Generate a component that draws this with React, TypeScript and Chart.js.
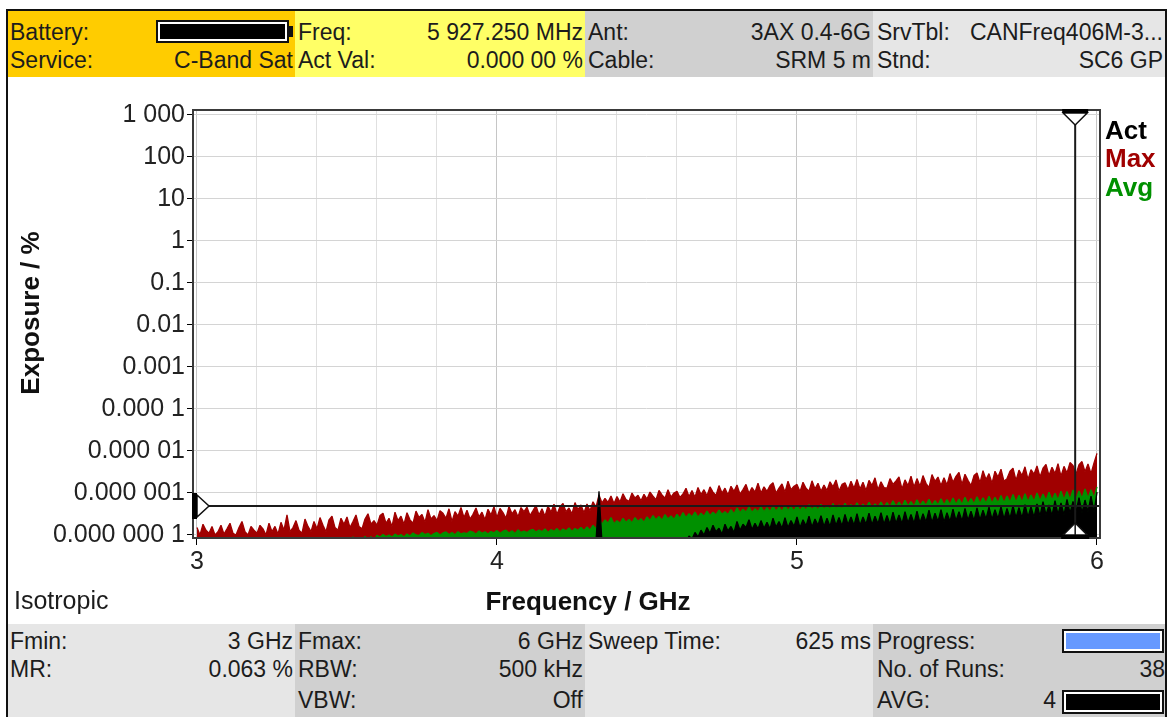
import React, { useEffect, useRef } from "react";
import { Chart, registerables } from "chart.js";

Chart.register(...registerables);

// ---------- data ----------
const FREQ_START_GHZ = 3.0;
const FREQ_STEP_GHZ = 0.01;
const POINT_COUNT = 301;
const frequencies: number[] = Array.from({ length: POINT_COUNT }, (_, i) =>
  Number((FREQ_START_GHZ + i * FREQ_STEP_GHZ).toFixed(2))
);

// Max hold trace (exposure, %)
const maxValues: number[] = [
  1.5e-7, 1.0e-7, 1.8e-7, 1.3e-7, 1.1e-7, 1.6e-7, 1.0e-7, 1.2e-7, 1.7e-7, 1.05e-7,
  1.4e-7, 1.9e-7, 1.1e-7, 1.0e-7, 1.5e-7, 2.1e-7, 1.2e-7, 1.0e-7, 1.6e-7, 1.3e-7,
  1.1e-7, 1.7e-7, 1.4e-7, 1.0e-7, 1.9e-7, 1.2e-7, 1.6e-7, 1.05e-7, 2.0e-7, 1.3e-7,
  3.0e-7, 1.2e-7, 1.5e-7, 2.2e-7, 1.3e-7, 1.1e-7, 2.4e-7, 1.6e-7, 1.2e-7, 2.1e-7,
  1.4e-7, 2.6e-7, 1.7e-7, 1.2e-7, 2.3e-7, 2.8e-7, 1.5e-7, 1.3e-7, 2.5e-7, 1.8e-7,
  2.7e-7, 1.5e-7, 2.1e-7, 3.0e-7, 1.6e-7, 1.4e-7, 2.4e-7, 3.2e-7, 1.8e-7, 2.2e-7,
  1.7e-7, 2.9e-7, 3.3e-7, 1.9e-7, 2.5e-7, 1.6e-7, 3.5e-7, 2.2e-7, 2.8e-7, 1.8e-7,
  3.4e-7, 2.3e-7, 1.9e-7, 3.7e-7, 2.6e-7, 3.1e-7, 2.0e-7, 4.0e-7, 2.4e-7, 2.9e-7,
  2.2e-7, 3.8e-7, 3.3e-7, 2.5e-7, 4.2e-7, 2.1e-7, 3.6e-7, 2.8e-7, 4.5e-7, 2.6e-7,
  3.9e-7, 2.4e-7, 3.1e-7, 4.4e-7, 2.7e-7, 3.5e-7, 2.3e-7, 4.1e-7, 3.0e-7, 4.7e-7,
  2.6e-7, 4.3e-7, 3.4e-7, 2.5e-7, 4.8e-7, 3.2e-7, 4.0e-7, 2.7e-7, 4.5e-7, 3.6e-7,
  4.6e-7, 2.9e-7, 3.8e-7, 5.0e-7, 3.0e-7, 4.2e-7, 2.8e-7, 4.9e-7, 3.5e-7, 5.4e-7,
  3.1e-7, 4.7e-7, 5.6e-7, 3.6e-7, 4.4e-7, 3.2e-7, 5.9e-7, 4.0e-7, 5.2e-7, 3.4e-7,
  5.5e-7, 3.8e-7, 6.2e-7, 4.6e-7, 9.0e-7, 5.8e-7, 7.4e-7, 6.0e-7, 8.5e-7, 5.6e-7,
  8.2e-7, 6.1e-7, 9.6e-7, 7.0e-7, 6.3e-7, 1.0e-6, 7.6e-7, 8.8e-7, 6.5e-7, 9.3e-7,
  7.2e-7, 1.05e-6, 8.4e-7, 6.9e-7, 1.15e-6, 9.0e-7, 7.5e-7, 1.2e-6, 8.0e-7, 1.0e-6,
  1.1e-6, 7.8e-7, 9.5e-7, 1.3e-6, 8.2e-7, 1.15e-6, 7.9e-7, 1.35e-6, 9.2e-7, 1.2e-6,
  8.6e-7, 1.4e-6, 1.05e-6, 8.8e-7, 1.5e-6, 1.0e-6, 1.3e-6, 9.0e-7, 1.45e-6, 1.1e-6,
  1.55e-6, 9.4e-7, 1.2e-6, 1.6e-6, 9.8e-7, 1.35e-6, 1.05e-6, 1.7e-6, 1.0e-6, 1.4e-6,
  1.1e-6, 1.5e-6, 1.75e-6, 1.0e-6, 1.3e-6, 1.65e-6, 1.05e-6, 1.9e-6, 1.2e-6, 1.45e-6,
  1.6e-6, 1.08e-6, 1.8e-6, 1.3e-6, 1.1e-6, 1.95e-6, 1.25e-6, 1.7e-6, 1.1e-6, 1.55e-6,
  1.15e-6, 1.85e-6, 1.4e-6, 2.05e-6, 1.12e-6, 1.6e-6, 1.75e-6, 1.2e-6, 1.9e-6, 1.3e-6,
  2.1e-6, 1.25e-6, 1.8e-6, 1.15e-6, 2.0e-6, 1.5e-6, 2.3e-6, 1.2e-6, 1.85e-6, 1.35e-6,
  1.3e-6, 2.2e-6, 1.6e-6, 1.95e-6, 2.4e-6, 1.25e-6, 2.05e-6, 1.5e-6, 2.5e-6, 1.4e-6,
  2.2e-6, 1.45e-6, 2.6e-6, 1.7e-6, 1.35e-6, 2.75e-6, 1.9e-6, 2.4e-6, 1.5e-6, 2.3e-6,
  1.55e-6, 2.9e-6, 1.8e-6, 2.5e-6, 3.1e-6, 1.6e-6, 2.8e-6, 2.0e-6, 1.5e-6, 2.6e-6,
  3.0e-6, 1.75e-6, 3.4e-6, 2.1e-6, 2.9e-6, 1.7e-6, 3.3e-6, 2.4e-6, 3.7e-6, 1.9e-6,
  2.2e-6, 3.3e-6, 3.9e-6, 2.0e-6, 3.5e-6, 2.6e-6, 4.2e-6, 2.1e-6, 3.6e-6, 2.8e-6,
  4.4e-6, 2.4e-6, 3.9e-6, 4.8e-6, 2.6e-6, 4.1e-6, 2.9e-6, 5.0e-6, 2.5e-6, 4.3e-6,
  3.0e-6, 5.3e-6, 4.5e-6, 2.8e-6, 4.7e-6, 5.6e-6, 3.2e-6, 4.9e-6, 2.9e-6, 5.2e-6,
  8.8e-6,
];

// Average trace (exposure, %)
const avgValues: number[] = [
  7.0e-8, 5.5e-8, 7.6e-8, 6.0e-8, 6.8e-8, 5.4e-8, 7.8e-8, 5.8e-8, 7.2e-8, 5.5e-8,
  7.7e-8, 5.9e-8, 7.1e-8, 5.6e-8, 8.0e-8, 6.0e-8, 7.4e-8, 5.7e-8, 7.9e-8, 6.1e-8,
  7.5e-8, 6.2e-8, 8.1e-8, 5.9e-8, 7.7e-8, 6.3e-8, 8.2e-8, 6.0e-8, 7.8e-8, 6.4e-8,
  8.2e-8, 6.3e-8, 7.9e-8, 6.5e-8, 8.3e-8, 6.6e-8, 8.0e-8, 6.4e-8, 8.4e-8, 6.7e-8,
  8.1e-8, 6.8e-8, 8.4e-8, 6.6e-8, 8.2e-8, 6.9e-8, 8.4e-8, 7.0e-8, 8.3e-8, 7.1e-8,
  8.6e-8, 7.2e-8, 9.0e-8, 7.1e-8, 8.8e-8, 7.4e-8, 9.3e-8, 7.3e-8, 9.1e-8, 7.5e-8,
  9.8e-8, 8.8e-8, 1.03e-7, 9.2e-8, 1.0e-7, 8.9e-8, 1.05e-7, 9.4e-8, 1.02e-7, 9.0e-8,
  1.06e-7, 9.5e-8, 1.12e-7, 1.0e-7, 9.7e-8, 1.14e-7, 1.02e-7, 1.1e-7, 9.6e-8, 1.08e-7,
  1.15e-7, 1.0e-7, 1.12e-7, 1.18e-7, 1.03e-7, 1.14e-7, 1.01e-7, 1.2e-7, 1.06e-7, 1.12e-7,
  1.08e-7, 1.23e-7, 1.17e-7, 1.04e-7, 1.25e-7, 1.1e-7, 1.19e-7, 1.06e-7, 1.21e-7, 1.13e-7,
  1.27e-7, 1.1e-7, 1.23e-7, 1.3e-7, 1.12e-7, 1.26e-7, 1.08e-7, 1.33e-7, 1.15e-7, 1.24e-7,
  1.14e-7, 1.29e-7, 1.36e-7, 1.17e-7, 1.31e-7, 1.2e-7, 1.39e-7, 1.15e-7, 1.34e-7, 1.22e-7,
  1.42e-7, 1.2e-7, 1.38e-7, 1.25e-7, 1.47e-7, 1.22e-7, 1.43e-7, 1.3e-7, 1.52e-7, 1.26e-7,
  1.55e-7, 1.3e-7, 1.7e-7, 1.4e-7, 2.5e-7, 1.8e-7, 2.3e-7, 1.9e-7, 2.6e-7, 1.85e-7,
  2.2e-7, 1.9e-7, 2.5e-7, 2.0e-7, 2.35e-7, 1.95e-7, 2.6e-7, 2.1e-7, 2.45e-7, 2.0e-7,
  2.7e-7, 2.2e-7, 2.9e-7, 2.3e-7, 2.75e-7, 2.25e-7, 3.05e-7, 2.4e-7, 2.85e-7, 2.35e-7,
  3.1e-7, 2.5e-7, 3.4e-7, 2.6e-7, 3.2e-7, 2.7e-7, 3.5e-7, 2.65e-7, 3.3e-7, 2.8e-7,
  3.7e-7, 2.9e-7, 3.5e-7, 3.0e-7, 3.9e-7, 3.1e-7, 3.6e-7, 3.05e-7, 4.0e-7, 3.2e-7,
  4.4e-7, 3.4e-7, 4.1e-7, 3.5e-7, 4.6e-7, 3.45e-7, 4.2e-7, 3.6e-7, 4.7e-7, 3.55e-7,
  4.5e-7, 3.6e-7, 4.9e-7, 3.7e-7, 4.6e-7, 3.65e-7, 5.0e-7, 3.8e-7, 4.7e-7, 3.75e-7,
  5.1e-7, 3.85e-7, 4.8e-7, 3.9e-7, 5.3e-7, 4.0e-7, 4.9e-7, 3.95e-7, 5.4e-7, 4.1e-7,
  5.0e-7, 4.1e-7, 5.6e-7, 4.2e-7, 5.2e-7, 4.15e-7, 5.7e-7, 4.3e-7, 5.3e-7, 4.25e-7,
  5.8e-7, 4.4e-7, 5.4e-7, 4.5e-7, 6.0e-7, 4.45e-7, 5.5e-7, 4.6e-7, 6.1e-7, 4.55e-7,
  5.9e-7, 4.7e-7, 6.5e-7, 4.8e-7, 6.1e-7, 4.75e-7, 6.7e-7, 4.9e-7, 6.2e-7, 4.85e-7,
  6.9e-7, 5.0e-7, 6.4e-7, 5.1e-7, 7.1e-7, 5.05e-7, 6.6e-7, 5.2e-7, 7.3e-7, 5.15e-7,
  7.0e-7, 5.3e-7, 7.6e-7, 5.4e-7, 7.2e-7, 5.35e-7, 7.9e-7, 5.5e-7, 7.4e-7, 5.45e-7,
  8.1e-7, 5.6e-7, 7.7e-7, 5.7e-7, 8.4e-7, 5.65e-7, 7.9e-7, 5.8e-7, 8.7e-7, 5.75e-7,
  8.5e-7, 6.0e-7, 9.2e-7, 6.1e-7, 8.8e-7, 6.05e-7, 9.6e-7, 6.2e-7, 9.0e-7, 6.3e-7,
  1.0e-6, 6.5e-7, 9.5e-7, 6.6e-7, 1.05e-6, 6.7e-7, 9.8e-7, 6.8e-7, 1.1e-6, 6.9e-7,
  1.08e-6, 7.0e-7, 1.18e-6, 7.2e-7, 1.12e-6, 7.4e-7, 1.25e-6, 7.5e-7, 1.2e-6, 7.7e-7,
  1.4e-6,
];

// Actual trace (exposure, %)
const actValues: number[] = [
  6.0e-8, 4.5e-8, 7.0e-8, 5.0e-8, 6.5e-8, 4.0e-8, 7.5e-8, 5.0e-8, 6.0e-8, 4.5e-8,
  6.8e-8, 4.2e-8, 6.2e-8, 5.2e-8, 7.2e-8, 4.6e-8, 6.4e-8, 4.8e-8, 7.0e-8, 4.4e-8,
  6.6e-8, 5.0e-8, 7.4e-8, 4.3e-8, 6.1e-8, 4.9e-8, 7.1e-8, 4.5e-8, 6.7e-8, 5.1e-8,
  7.3e-8, 4.7e-8, 6.3e-8, 5.3e-8, 6.9e-8, 4.4e-8, 7.6e-8, 5.0e-8, 6.5e-8, 4.6e-8,
  7.0e-8, 5.2e-8, 6.4e-8, 4.5e-8, 7.5e-8, 5.0e-8, 6.6e-8, 4.8e-8, 7.2e-8, 5.4e-8,
  6.8e-8, 4.9e-8, 7.7e-8, 5.3e-8, 6.5e-8, 4.7e-8, 7.3e-8, 5.5e-8, 6.9e-8, 5.0e-8,
  7.4e-8, 5.2e-8, 6.7e-8, 4.8e-8, 7.8e-8, 5.6e-8, 7.0e-8, 5.1e-8, 7.6e-8, 5.4e-8,
  7.1e-8, 5.5e-8, 7.9e-8, 5.0e-8, 6.8e-8, 5.7e-8, 7.5e-8, 5.2e-8, 8.0e-8, 5.6e-8,
  7.3e-8, 5.3e-8, 7.8e-8, 5.8e-8, 7.1e-8, 5.4e-8, 8.1e-8, 5.9e-8, 7.4e-8, 5.5e-8,
  7.9e-8, 6.0e-8, 7.2e-8, 5.6e-8, 8.2e-8, 5.8e-8, 7.6e-8, 6.1e-8, 8.0e-8, 5.7e-8,
  7.5e-8, 6.2e-8, 8.3e-8, 5.9e-8, 7.7e-8, 6.3e-8, 8.1e-8, 6.0e-8, 7.8e-8, 6.4e-8,
  8.2e-8, 6.1e-8, 7.9e-8, 6.5e-8, 8.4e-8, 6.2e-8, 7.8e-8, 6.6e-8, 8.3e-8, 6.3e-8,
  8.0e-8, 6.7e-8, 8.2e-8, 6.4e-8, 8.1e-8, 6.8e-8, 8.3e-8, 6.5e-8, 8.2e-8, 6.9e-8,
  8.4e-8, 6.6e-8, 8.0e-8, 7.0e-8, 1.1e-6, 6.7e-8, 8.3e-8, 7.1e-8, 8.1e-8, 6.8e-8,
  8.2e-8, 7.2e-8, 8.4e-8, 6.9e-8, 8.0e-8, 7.3e-8, 8.3e-8, 7.0e-8, 8.1e-8, 7.4e-8,
  8.3e-8, 7.1e-8, 8.2e-8, 7.5e-8, 8.4e-8, 7.2e-8, 8.0e-8, 7.6e-8, 8.3e-8, 7.3e-8,
  7.0e-8, 5.0e-8, 8.0e-8, 6.0e-8, 9.5e-8, 8.0e-8, 1.15e-7, 9.0e-8, 1.3e-7, 1.0e-7,
  1.5e-7, 1.1e-7, 1.7e-7, 1.2e-7, 1.45e-7, 1.05e-7, 1.8e-7, 1.25e-7, 1.6e-7, 1.15e-7,
  2.1e-7, 1.3e-7, 1.8e-7, 1.5e-7, 2.3e-7, 1.35e-7, 1.9e-7, 1.4e-7, 2.2e-7, 1.45e-7,
  2.0e-7, 1.4e-7, 2.5e-7, 1.55e-7, 2.1e-7, 1.45e-7, 2.6e-7, 1.5e-7, 2.2e-7, 1.6e-7,
  2.7e-7, 1.5e-7, 2.3e-7, 1.65e-7, 2.8e-7, 1.55e-7, 2.4e-7, 1.7e-7, 2.9e-7, 1.6e-7,
  2.5e-7, 1.6e-7, 3.0e-7, 1.7e-7, 2.6e-7, 1.65e-7, 3.1e-7, 1.75e-7, 2.7e-7, 1.7e-7,
  3.2e-7, 1.7e-7, 2.7e-7, 1.8e-7, 3.3e-7, 1.75e-7, 2.8e-7, 1.85e-7, 3.4e-7, 1.8e-7,
  2.9e-7, 1.8e-7, 3.5e-7, 1.9e-7, 3.0e-7, 1.85e-7, 3.6e-7, 1.95e-7, 3.1e-7, 1.9e-7,
  3.7e-7, 1.95e-7, 3.2e-7, 2.05e-7, 3.9e-7, 2.0e-7, 3.3e-7, 2.1e-7, 4.0e-7, 2.05e-7,
  3.4e-7, 2.1e-7, 4.1e-7, 2.2e-7, 3.6e-7, 2.15e-7, 4.3e-7, 2.25e-7, 3.7e-7, 2.2e-7,
  4.4e-7, 2.3e-7, 3.9e-7, 2.4e-7, 4.6e-7, 2.35e-7, 4.0e-7, 2.45e-7, 4.7e-7, 2.4e-7,
  4.3e-7, 2.5e-7, 5.0e-7, 2.6e-7, 4.5e-7, 2.55e-7, 5.3e-7, 2.7e-7, 4.7e-7, 2.65e-7,
  5.5e-7, 2.8e-7, 6.2e-7, 3.0e-7, 5.2e-7, 2.9e-7, 6.6e-7, 3.1e-7, 5.8e-7, 3.0e-7,
  7.0e-7, 3.3e-7, 6.3e-7, 3.5e-7, 7.8e-7, 3.4e-7, 6.8e-7, 3.6e-7, 8.4e-7, 3.5e-7,
  1.05e-6,
];

const seriesNames = ["Act", "Max", "Avg"];
const seriesColors = ["#000000", "#a00000", "#009000"];

const yTickValues = [1e-7, 1e-6, 1e-5, 1e-4, 1e-3, 1e-2, 1e-1, 1, 10, 100, 1000];
const yTickLabels = [
  "0.000 000 1", "0.000 001", "0.000 01", "0.000 1", "0.001", "0.01", "0.1",
  "1", "10", "100", "1 000",
];
const xGridValues = [3.0, 3.2, 3.4, 3.6, 3.8, 4.0, 4.2, 4.4, 4.6, 4.8, 5.0, 5.2, 5.4, 5.6, 5.8, 6.0];
const xTickLabels: Record<string, string> = { "3": "3", "4": "4", "5": "5", "6": "6" };

const X_MIN = 2.9867;
const X_MAX = 6.01;
const Y_MIN = 8.48e-8;
const Y_MAX = 1315;

const markerFrequency = 5.92725; // GHz
const markerLevel = 4.9e-7; // %

const FONT = '"Liberation Sans", Arial, Helvetica, sans-serif';

// ---------- plugin for frame and markers ----------
const markerPlugin = {
  id: "markers",
  afterDatasetsDraw(chart: any) {
    const { ctx, chartArea: a, scales } = chart;
    const xs = scales.x;
    const ys = scales.y;
    const my = ys.getPixelForValue(markerLevel);
    const mx = xs.getPixelForValue(markerFrequency);
    ctx.save();
    ctx.lineCap = "butt";
    ctx.strokeStyle = "#1a1a1a";
    ctx.lineWidth = 2;
    ctx.beginPath();
    ctx.moveTo(a.left, my);
    ctx.lineTo(a.right, my);
    ctx.stroke();
    ctx.beginPath();
    ctx.moveTo(mx, a.top);
    ctx.lineTo(mx, a.bottom);
    ctx.stroke();

    // frame
    ctx.strokeStyle = "#3a3a3a";
    ctx.lineWidth = 2;
    ctx.strokeRect(a.left, a.top, a.right - a.left, a.bottom - a.top);

    ctx.fillStyle = "#ffffff";
    ctx.strokeStyle = "#111";
    ctx.lineWidth = 1.5;
    // top marker (down triangle)
    ctx.beginPath();
    ctx.moveTo(mx - 12, a.top + 3);
    ctx.lineTo(mx + 12, a.top + 3);
    ctx.lineTo(mx, a.top + 15);
    ctx.closePath();
    ctx.fill();
    ctx.stroke();
    ctx.fillStyle = "#000";
    ctx.fillRect(mx - 13, a.top - 1, 26, 4);
    // bottom marker (up triangle)
    ctx.fillStyle = "#ffffff";
    ctx.beginPath();
    ctx.moveTo(mx - 12, a.bottom - 3);
    ctx.lineTo(mx + 12, a.bottom - 3);
    ctx.lineTo(mx, a.bottom - 15);
    ctx.closePath();
    ctx.fill();
    ctx.stroke();
    ctx.beginPath();
    ctx.moveTo(mx, a.bottom - 15);
    ctx.lineTo(mx, a.bottom);
    ctx.stroke();
    ctx.fillStyle = "#000";
    ctx.fillRect(mx - 14, a.bottom - 3, 28, 4);
    // left marker (right-pointing triangle)
    ctx.fillStyle = "#ffffff";
    ctx.beginPath();
    ctx.moveTo(a.left + 4, my - 11);
    ctx.lineTo(a.left + 16, my);
    ctx.lineTo(a.left + 4, my + 11);
    ctx.closePath();
    ctx.fill();
    ctx.stroke();
    ctx.fillStyle = "#000";
    ctx.fillRect(a.left - 1, my - 13, 5, 26);
    ctx.restore();
  },
};

// ---------- UI helpers ----------
type TextProps = { x?: number; right?: number; cy: number; text: string; size?: number; bold?: boolean; color?: string };
const Txt = ({ x, right, cy, text, size = 23, bold = false, color = "#1c1c1c" }: TextProps) => (
  <div
    style={{
      position: "absolute",
      left: x !== undefined ? x : undefined,
      right: right !== undefined ? 1171 - right : undefined,
      top: cy - 15,
      height: 30,
      lineHeight: "30px",
      fontSize: size,
      fontWeight: bold ? "bold" : "normal",
      color,
      whiteSpace: "nowrap",
    }}
  >
    {text}
  </div>
);

const Box = ({ l, t, w, h, bg }: { l: number; t: number; w: number; h: number; bg: string }) => (
  <div style={{ position: "absolute", left: l, top: t, width: w, height: h, background: bg }} />
);

const Bar = ({ l, t, w, h, fill }: { l: number; t: number; w: number; h: number; fill: string }) => (
  <div
    style={{
      position: "absolute",
      left: l,
      top: t,
      width: w,
      height: h,
      border: "2px solid #111",
      boxSizing: "border-box",
      background: "#fff",
      padding: 2,
    }}
  >
    <div style={{ width: "100%", height: "100%", background: fill }} />
  </div>
);

export default function App() {
  const canvasRef = useRef<HTMLCanvasElement>(null);

  useEffect(() => {
    const canvas = canvasRef.current;
    if (!canvas) return;
    const seriesValues = [actValues, maxValues, avgValues];
    const order = [0, 2, 1]; // Act on top, then Avg, then Max
    const datasets = order.map((k) => ({
      label: seriesNames[k],
      data: frequencies.map((f, i) => ({ x: f, y: seriesValues[k][i] })),
      borderColor: seriesColors[k],
      backgroundColor: seriesColors[k],
      borderWidth: 1.3,
      borderJoinStyle: "bevel",
      pointRadius: 0,
      tension: 0,
      fill: "start",
      clip: 0,
    }));

    const chart = new Chart(canvas, {
      type: "line",
      data: { datasets },
      plugins: [markerPlugin],
      options: {
        animation: false,
        responsive: false,
        devicePixelRatio: 1,
        events: [],
        layout: { padding: { left: 0, top: 110, right: 71, bottom: 0 }, autoPadding: false },
        plugins: {
          legend: { display: false },
          tooltip: { enabled: false },
          title: { display: false },
          filler: { drawTime: "beforeDatasetDraw" },
        },
        scales: {
          x: {
            type: "linear",
            min: X_MIN,
            max: X_MAX,
            afterBuildTicks: (s: any) => {
              s.ticks = xGridValues.map((v) => ({ value: v }));
            },
            afterFit: (s: any) => {
              s.height = 179;
            },
            border: { display: false },
            grid: {
              color: (c: any) => (Number.isInteger(c.tick?.value) ? "#c6c6c6" : "#e0e0e0"),
              tickColor: (c: any) => (Number.isInteger(c.tick?.value) ? "#000" : "rgba(0,0,0,0)"),
              tickLength: 7,
              lineWidth: 1,
            },
            ticks: {
              autoSkip: false,
              maxRotation: 0,
              minRotation: 0,
              padding: 2,
              color: "#222",
              font: { family: FONT, size: 25 },
              callback: (v: any) => xTickLabels[String(v)] ?? "",
            },
          },
          y: {
            type: "logarithmic",
            min: Y_MIN,
            max: Y_MAX,
            afterBuildTicks: (s: any) => {
              s.ticks = yTickValues.map((v) => ({ value: v }));
            },
            afterFit: (s: any) => {
              s.width = 193;
            },
            border: { display: false },
            grid: { color: "#d4d4d4", tickColor: "#000", tickLength: 6, lineWidth: 1 },
            ticks: {
              autoSkip: false,
              padding: 2,
              color: "#222",
              font: { family: FONT, size: 25 },
              callback: (_v: any, i: number) => yTickLabels[i],
            },
          },
        },
      } as any,
    });
    return () => chart.destroy();
  }, []);

  return (
    <div
      style={{
        position: "absolute",
        left: 0,
        top: 0,
        width: 1171,
        height: 717,
        background: "#fff",
        overflow: "hidden",
        fontFamily: FONT,
      }}
    >
      <canvas
        ref={canvasRef}
        width={1171}
        height={717}
        style={{ position: "absolute", left: 0, top: 0, width: 1171, height: 717, display: "block" }}
      />

      {/* outer frame */}
      <div style={{ position: "absolute", left: 6, top: 9, width: 1161, height: 2, background: "#111" }} />
      <div style={{ position: "absolute", left: 6, top: 9, width: 2, height: 708, background: "#111" }} />
      <div style={{ position: "absolute", left: 1165, top: 9, width: 2, height: 708, background: "#111" }} />

      {/* header */}
      <Box l={8} t={11} w={287} h={66} bg="#ffcc00" />
      <Box l={295} t={11} w={290} h={66} bg="#ffff66" />
      <Box l={585} t={11} w={288} h={66} bg="#d0d0d0" />
      <Box l={873} t={11} w={292} h={66} bg="#e6e6e6" />

      <Txt x={10} cy={32} text="Battery:" />
      <Bar l={156} t={20} w={133} h={23} fill="#000" />
      <div style={{ position: "absolute", left: 289, top: 26, width: 4, height: 11, background: "#111" }} />
      <Txt x={10} cy={60} text="Service:" />
      <Txt right={293} cy={60} text="C-Band Sat" />
      <Txt x={298} cy={32} text="Freq:" />
      <Txt right={583} cy={32} text="5 927.250 MHz" />
      <Txt x={298} cy={60} text="Act Val:" />
      <Txt right={583} cy={60} text="0.000 00 %" />
      <Txt x={588} cy={32} text="Ant:" />
      <Txt right={871} cy={32} text="3AX 0.4-6G" />
      <Txt x={588} cy={60} text="Cable:" />
      <Txt right={871} cy={60} text="SRM 5 m" />
      <Txt x={877} cy={32} text="SrvTbl:" />
      <Txt right={1163} cy={32} text="CANFreq406M-3..." />
      <Txt x={877} cy={60} text="Stnd:" />
      <Txt right={1163} cy={60} text="SC6 GP" />

      {/* legend */}
      <Txt x={1105} cy={130} text={seriesNames[0]} size={26} bold color={seriesColors[0]} />
      <Txt x={1105} cy={158} text={seriesNames[1]} size={26} bold color={seriesColors[1]} />
      <Txt x={1105} cy={187} text={seriesNames[2]} size={26} bold color={seriesColors[2]} />

      {/* axis titles */}
      <div
        style={{
          position: "absolute",
          left: 30 - 100,
          top: 313 - 15,
          width: 200,
          height: 30,
          lineHeight: "30px",
          textAlign: "center",
          fontSize: 26,
          fontWeight: "bold",
          color: "#111",
          transform: "rotate(-90deg)",
          whiteSpace: "nowrap",
        }}
      >
        Exposure / %
      </div>
      <div
        style={{
          position: "absolute",
          left: 588 - 150,
          top: 601 - 15,
          width: 300,
          height: 30,
          lineHeight: "30px",
          textAlign: "center",
          fontSize: 26,
          fontWeight: "bold",
          color: "#111",
          whiteSpace: "nowrap",
        }}
      >
        Frequency / GHz
      </div>
      <Txt x={14} cy={600} text="Isotropic" size={25} />

      {/* footer */}
      <Box l={8} t={624} w={287} h={93} bg="#e6e6e6" />
      <Box l={295} t={624} w={290} h={93} bg="#d0d0d0" />
      <Box l={585} t={624} w={288} h={93} bg="#e6e6e6" />
      <Box l={873} t={624} w={292} h={93} bg="#d0d0d0" />

      <Txt x={10} cy={641} text="Fmin:" />
      <Txt right={293} cy={641} text="3 GHz" />
      <Txt x={10} cy={669} text="MR:" />
      <Txt right={293} cy={669} text="0.063 %" />
      <Txt x={298} cy={641} text="Fmax:" />
      <Txt right={583} cy={641} text="6 GHz" />
      <Txt x={298} cy={669} text="RBW:" />
      <Txt right={583} cy={669} text="500 kHz" />
      <Txt x={298} cy={700} text="VBW:" />
      <Txt right={583} cy={700} text="Off" />
      <Txt x={588} cy={641} text="Sweep Time:" />
      <Txt right={871} cy={641} text="625 ms" />
      <Txt x={877} cy={641} text="Progress:" />
      <Bar l={1062} t={629} w={102} h={24} fill="#6699ff" />
      <Txt x={877} cy={669} text="No. of Runs:" />
      <Txt right={1165} cy={669} text="38" />
      <Txt x={877} cy={700} text="AVG:" />
      <Txt right={1056} cy={700} text="4" />
      <Bar l={1062} t={690} w={102} h={24} fill="#000" />
    </div>
  );
}
